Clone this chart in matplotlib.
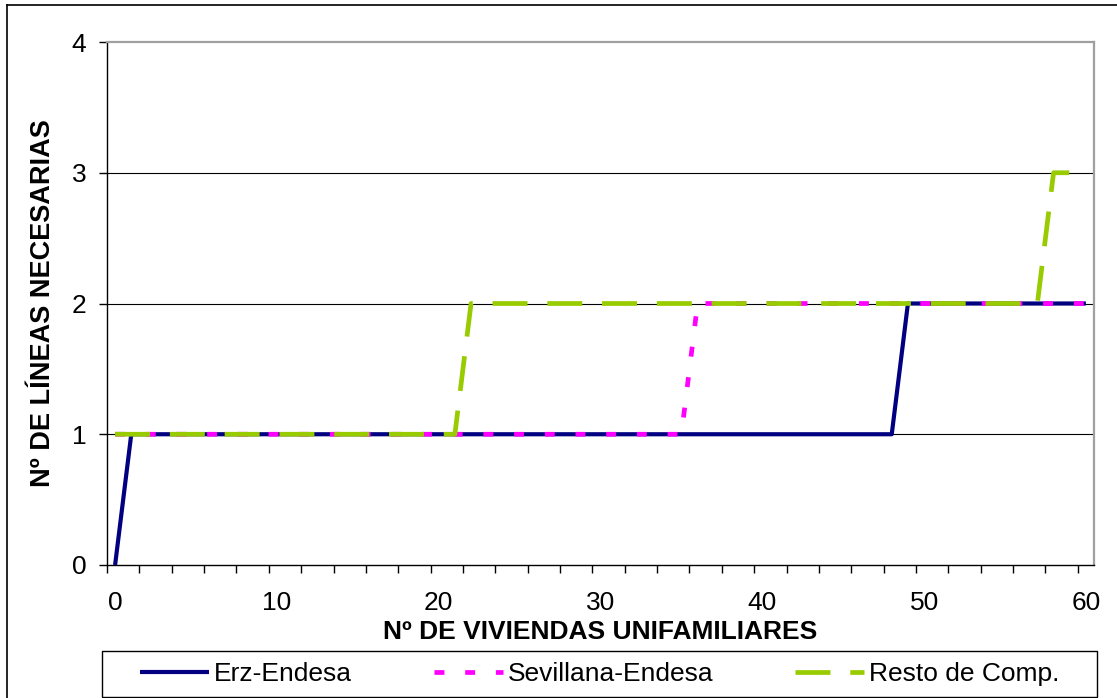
import matplotlib.pyplot as plt
from matplotlib.lines import Line2D
from matplotlib.patches import Rectangle
import numpy as np

plt.rcParams['font.family'] = ['Liberation Sans', 'DejaVu Sans']

# Number of lines needed per number of single-family dwellings
viviendas = list(range(0, 61))
erz_endesa = [0] + [1] * 48 + [2] * 12
sevillana_endesa = [1] * 36 + [2] * 25
resto_viviendas = list(range(0, 60))
resto_comp = [1] * 22 + [2] * 36 + [3] * 2

x_labels = [0, 10, 20, 30, 40, 50, 60]
y_labels = [0, 1, 2, 3, 4]

fig = plt.figure(figsize=(11.17, 6.98), dpi=100)
ax = fig.add_axes([107 / 1117, 133 / 698, 987 / 1117, 523 / 698])

ax.plot(viviendas, erz_endesa, color='#000080', lw=3.0,
        solid_capstyle='butt', label='Erz-Endesa', zorder=3)
ax.plot(viviendas, sevillana_endesa, color='#FF00FF', lw=3.4,
        dashes=(2.1, 4.4), label='Sevillana-Endesa', zorder=4)
ax.plot(resto_viviendas, resto_comp, color='#99CC00', lw=3.4,
        dashes=(7.4, 4.2), label='Resto de Comp.', zorder=5)

ax.set_xlim(-0.5, 60.5)
ax.set_ylim(0, 4)

# category axis: labels every 10, tick marks every 2 categories
ax.set_xticks(x_labels)
ax.set_xticks(np.arange(-0.5, 61, 2), minor=True)
ax.tick_params(axis='x', which='major', length=0, pad=19, labelsize=19)
ax.tick_params(axis='x', which='minor', length=6, width=1, direction='out')
ax.set_yticks(y_labels)
ax.tick_params(axis='y', which='major', length=6, width=1, direction='out',
               pad=9, labelsize=19)

for y in y_labels[1:4]:
    ax.axhline(y, color='black', lw=0.8, zorder=1)

for side in ['left', 'bottom']:
    ax.spines[side].set_color('black')
    ax.spines[side].set_linewidth(1)
for side in ['top', 'right']:
    ax.spines[side].set_color('#A0A0A0')
    ax.spines[side].set_linewidth(1.6)

ax.set_xlabel('Nº DE VIVIENDAS UNIFAMILIARES', fontsize=19,
              fontweight='bold', labelpad=3)
ax.set_ylabel('Nº DE LÍNEAS NECESARIAS', fontsize=19.5,
              fontweight='bold', labelpad=11)

# legend box along the bottom of the chart
fig.add_artist(Rectangle((102 / 1117, 1 / 698), 995 / 1117, 46 / 698,
                         transform=fig.transFigure, facecolor='white',
                         edgecolor='black', lw=1))
fig.legend(loc='center', bbox_to_anchor=(600 / 1117, 24 / 698),
           ncol=3, fontsize=19, frameon=False, handlelength=2.6,
           handletextpad=0.2, columnspacing=3.1, borderpad=0)

# outer chart border
fig.add_artist(Line2D([7 / 1117, 7 / 1117], [0, 693 / 698],
                      transform=fig.transFigure, color='black', lw=1.2))
fig.add_artist(Line2D([7 / 1117, 1], [693 / 698, 693 / 698],
                      transform=fig.transFigure, color='black', lw=1.2))

fig.savefig('out.png', dpi=100)
